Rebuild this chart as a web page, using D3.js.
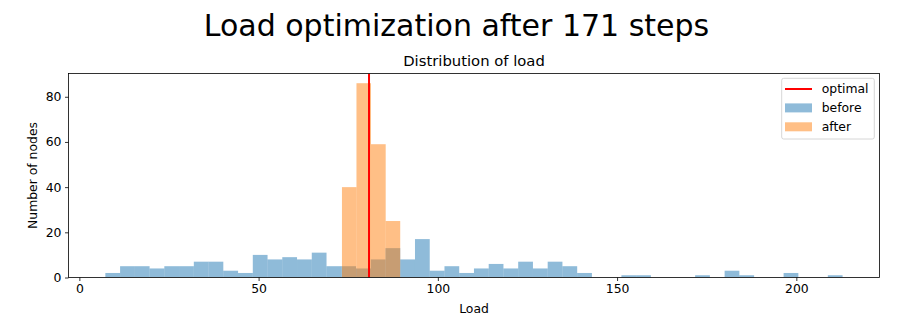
<!DOCTYPE html>
<html><head><meta charset="utf-8">
<script src="https://cdn.jsdelivr.net/npm/d3@7"></script>
<style>body{margin:0;background:#fff}text{font-family:"DejaVu Sans",sans-serif}</style>
</head><body><svg id="c" width="913" height="322"></svg>
<script>
const titleText = "Load optimization after 171 steps";
const subtitleText = "Distribution of load";
const beforeStart = 7.25, beforeBinWidth = 4.113;
const beforeCounts = [2,5,5,4,5,5,7,7,3,2,10,8,9,8,11,5,5,4,8,13,8,17,3,5,2,4,6,4,7,4,7,5,2,0,0,1,1,0,0,0,1,0,3,1,0,0,2,0,0,1];
const afterEdges = [73.25, 77.3, 81.35, 85.45, 89.5];
const afterCounts = [40, 86, 59, 25];
const optimal = 80.8;
const xTicks = [0, 50, 100, 150, 200];
const yTicks = [0, 20, 40, 60, 80];

const svg = d3.select("#c");
const L = 68.5, R = 879.5, T = 73.5, B = 277.5;
const x = d3.scaleLinear().domain([-3.03, 223.2]).range([L, R]);
const y = d3.scaleLinear().domain([0, 90.3]).range([B, T]);

const beforeBins = beforeCounts.map((c, i) => ({x0: beforeStart + i*beforeBinWidth, x1: beforeStart + (i+1)*beforeBinWidth, c}));
const afterBins = afterCounts.map((c, i) => ({x0: afterEdges[i], x1: afterEdges[i+1], c}));

svg.append("clipPath").attr("id","cp").append("rect").attr("x",L).attr("y",T).attr("width",R-L).attr("height",B-T);
const g = svg.append("g").attr("clip-path","url(#cp)");
g.selectAll(".b").data(beforeBins.filter(d=>d.c>0)).join("rect")
  .attr("x", d=>x(d.x0)).attr("width", d=>x(d.x1)-x(d.x0))
  .attr("y", d=>y(d.c)).attr("height", d=>y(0)-y(d.c))
  .attr("fill","#1f77b4").attr("fill-opacity",0.5);
g.selectAll(".a").data(afterBins).join("rect")
  .attr("x", d=>x(d.x0)).attr("width", d=>x(d.x1)-x(d.x0))
  .attr("y", d=>y(d.c)).attr("height", d=>y(0)-y(d.c))
  .attr("fill","#ff7f0e").attr("fill-opacity",0.5);
g.append("line").attr("x1",x(optimal)).attr("x2",x(optimal)).attr("y1",T).attr("y2",B)
  .attr("stroke","red").attr("stroke-width",2);

const xa = svg.append("g").attr("transform",`translate(0,${B})`)
  .call(d3.axisBottom(x).tickValues(xTicks).tickSize(3.5).tickPadding(3.5).tickFormat(d3.format("d")));
const ya = svg.append("g").attr("transform",`translate(${L},0)`)
  .call(d3.axisLeft(y).tickValues(yTicks).tickSize(3.5).tickPadding(3.5).tickFormat(d3.format("d")));
[xa, ya].forEach(a => {
  a.select(".domain").remove();
  a.selectAll("text").attr("font-family","DejaVu Sans").attr("font-size",12.4).attr("fill","#000");
  a.selectAll("line").attr("stroke","#000").attr("stroke-width",0.8);
});
svg.append("rect").attr("x",L).attr("y",T).attr("width",R-L).attr("height",B-T)
  .attr("fill","none").attr("stroke","#000").attr("stroke-width",0.8);

svg.append("text").attr("x",456.5).attr("y",36).attr("text-anchor","middle").attr("font-size",30).text(titleText);
svg.append("text").attr("x",(L+R)/2).attr("y",65.5).attr("text-anchor","middle").attr("font-size",14.8).text(subtitleText);
svg.append("text").attr("x",(L+R)/2).attr("y",313.3).attr("text-anchor","middle").attr("font-size",12.4).text("Load");
svg.append("text").attr("transform",`translate(36.5,${(T+B)/2}) rotate(-90)`).attr("text-anchor","middle").attr("font-size",12.4).text("Number of nodes");

// legend
const lg = svg.append("g");
lg.append("rect").attr("x",781.7).attr("y",78.3).attr("width",92.6).attr("height",60.7).attr("rx",2)
  .attr("fill","#fff").attr("fill-opacity",0.8).attr("stroke","#ccc").attr("stroke-width",0.8);
const items = [{label:"optimal", kind:"line", color:"red"},{label:"before", kind:"patch", color:"#1f77b4"},{label:"after", kind:"patch", color:"#ff7f0e"}];
items.forEach((it, i) => {
  const cy = 89 + i*18.9;
  if (it.kind === "line") lg.append("line").attr("x1",785).attr("x2",812).attr("y1",cy).attr("y2",cy).attr("stroke",it.color).attr("stroke-width",2);
  else lg.append("rect").attr("x",785).attr("y",cy-4.5).attr("width",27).attr("height",9).attr("fill",it.color).attr("fill-opacity",0.5);
  lg.append("text").attr("x",821.7).attr("y",cy+4.4).attr("font-size",12.4).text(it.label);
});
</script></body></html>
